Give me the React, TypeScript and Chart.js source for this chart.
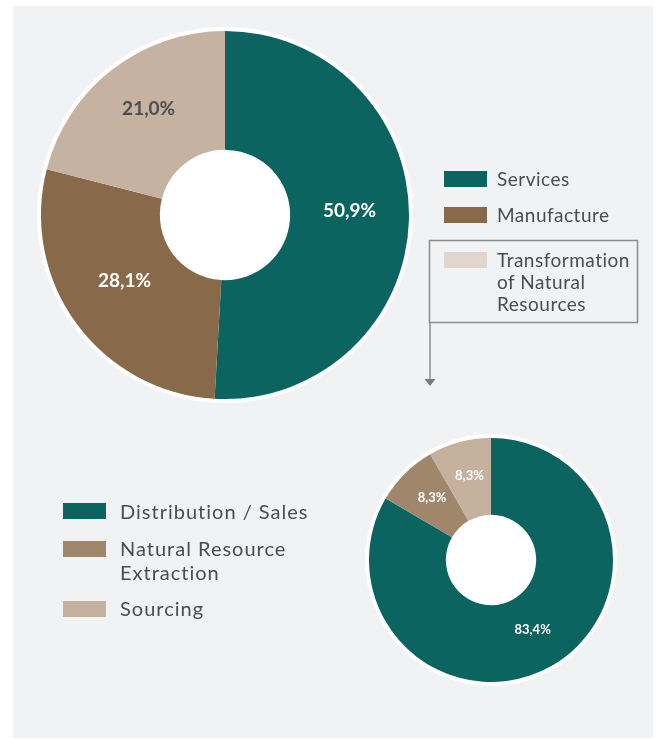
import React, { useEffect, useRef } from "react";
import { Chart, registerables } from "chart.js";

Chart.register(...registerables);

// ---- data ----
const mainCategories = ["Services", "Manufacture", "Transformation of Natural Resources"];
const mainValues = [50.9, 28.1, 21.0];
const mainColors = ["#0b6460", "#886a4a", "#c6b2a0"];
const mainLegendColors = ["#0b6460", "#886a4a", "#e0d6cd"];
const mainLabelColors = ["#ffffff", "#ffffff", "#4d4d4d"];
const mainLegendLines = [["Services"], ["Manufacture"], ["Transformation", "of Natural", "Resources"]];

const subCategories = ["Distribution / Sales", "Natural Resource Extraction", "Sourcing"];
const subValues = [83.4, 8.3, 8.3];
const subColors = ["#0b6460", "#a0876b", "#c6b19f"];
const subLabelColors = ["#ffffff", "#ffffff", "#ffffff"];
const subLegendLines = [["Distribution / Sales"], ["Natural Resource", "Extraction"], ["Sourcing"]];

const fmt = (v: number) => v.toFixed(1).replace(".", ",") + "%";

const TEXT = "#4c4c4c";
const FONT = "Lato, 'Noto Sans', sans-serif";

const donutPlugin = {
  id: "donutDecor",
  beforeDatasetsDraw(chart: any, _a: any, opts: any) {
    const meta = chart.getDatasetMeta(0);
    const arc = meta.data[0];
    if (!arc) return;
    const { x, y, outerRadius } = arc.getProps(["x", "y", "outerRadius"], true);
    const ctx = chart.ctx;
    ctx.save();
    ctx.beginPath();
    ctx.arc(x, y, outerRadius + (opts.ring || 4), 0, Math.PI * 2);
    ctx.fillStyle = "#ffffff";
    ctx.fill();
    ctx.restore();
  },
  afterDatasetsDraw(chart: any, _a: any, opts: any) {
    const meta = chart.getDatasetMeta(0);
    const ds = chart.data.datasets[0];
    const ctx = chart.ctx;
    ctx.save();
    ctx.font = `bold ${opts.fontSize || 18}px ${FONT}`;
    ctx.textAlign = "center";
    ctx.textBaseline = "middle";
    meta.data.forEach((arc: any, i: number) => {
      const p = arc.getProps(["x", "y", "startAngle", "endAngle", "innerRadius", "outerRadius"], true);
      const a = (p.startAngle + p.endAngle) / 2;
      const r = (p.innerRadius + p.outerRadius) / 2;
      ctx.fillStyle = opts.colors[i];
      ctx.fillText(fmt(ds.data[i]), p.x + Math.cos(a) * r, p.y + Math.sin(a) * r + (opts.dy || 0));
    });
    ctx.restore();
  },
};

function Donut(props: {
  labels: string[];
  values: number[];
  colors: string[];
  labelColors: string[];
  radius: number;
  cutout: string;
  fontSize: number;
  dy: number;
  left: number;
  top: number;
  size: number;
}) {
  const ref = useRef<HTMLCanvasElement | null>(null);
  useEffect(() => {
    if (!ref.current) return;
    const chart = new Chart(ref.current, {
      type: "doughnut",
      data: {
        labels: props.labels,
        datasets: [
          {
            data: props.values,
            backgroundColor: props.colors,
            borderWidth: 0,
            hoverOffset: 0,
          },
        ],
      },
      options: {
        responsive: false,
        animation: false,
        radius: props.radius,
        cutout: props.cutout,
        layout: { padding: 0 },
        plugins: {
          legend: { display: false },
          tooltip: { enabled: false },
          donutDecor: { ring: 4, colors: props.labelColors, fontSize: props.fontSize, dy: props.dy },
        } as any,
        events: [],
      },
      plugins: [donutPlugin as any],
    });
    return () => chart.destroy();
  }, []);
  return (
    <canvas
      ref={ref}
      width={props.size}
      height={props.size}
      style={{ position: "absolute", left: props.left, top: props.top, width: props.size, height: props.size }}
    />
  );
}

function LegendItem(props: { color: string; lines: string[]; boxLeft: number; boxTop: number; textTop: number; textLeft: number; fontSize: number; lineHeight: number; spacing: number }) {
  return (
    <>
      <div
        style={{
          position: "absolute",
          left: props.boxLeft,
          top: props.boxTop,
          width: 43,
          height: 16,
          background: props.color,
        }}
      />
      <div
        style={{
          position: "absolute",
          left: props.textLeft,
          top: props.textTop,
          fontFamily: FONT,
          fontSize: props.fontSize,
          lineHeight: props.lineHeight + "px",
          letterSpacing: props.spacing + "px",
          color: TEXT,
          whiteSpace: "nowrap",
        }}
      >
        {props.lines.map((l, i) => (
          <div key={i}>{l}</div>
        ))}
      </div>
    </>
  );
}

export default function App() {
  const topBoxTops = [171, 207, 252];
  const topTextTops = [168, 204, 249];
  const botBoxTops = [503, 541, 601];
  const botTextTops = [499, 536, 596];
  return (
    <div style={{ position: "fixed", left: 0, top: 0, width: 657, height: 739, background: "#ffffff", overflow: "hidden" }}>
      <div style={{ position: "absolute", left: 13, top: 6, width: 640, height: 732, background: "#f1f2f4" }} />
      <Donut
        labels={mainCategories}
        values={mainValues}
        colors={mainColors}
        labelColors={mainLabelColors}
        radius={184}
        cutout="35.4%"
        fontSize={19}
        dy={-8}
        left={25}
        top={15}
        size={400}
      />
      <Donut
        labels={subCategories}
        values={subValues}
        colors={subColors}
        labelColors={subLabelColors}
        radius={122}
        cutout="37%"
        fontSize={13}
        dy={-3}
        left={361}
        top={430}
        size={260}
      />
      <svg style={{ position: "absolute", left: 0, top: 0 }} width={657} height={739}>
        <rect x={429.5} y={240.5} width={208} height={82} fill="none" stroke="#8c8c8c" strokeWidth={1.5} />
        <line x1={430} y1={322} x2={430} y2={381} stroke="#8c8c8c" strokeWidth={1.5} />
        <polygon points="424.5,379 435.5,379 430,386" fill="#7a7a7a" />
      </svg>
      {mainCategories.map((c, i) => (
        <LegendItem
          key={c}
          color={mainLegendColors[i]}
          lines={mainLegendLines[i]}
          boxLeft={444}
          boxTop={topBoxTops[i]}
          textLeft={497}
          textTop={topTextTops[i]}
          fontSize={19}
          lineHeight={22}
          spacing={0.5}
        />
      ))}
      {subCategories.map((c, i) => (
        <LegendItem
          key={c}
          color={subColors[i]}
          lines={subLegendLines[i]}
          boxLeft={63}
          boxTop={botBoxTops[i]}
          textLeft={120}
          textTop={botTextTops[i]}
          fontSize={20}
          lineHeight={24}
          spacing={1}
        />
      ))}
    </div>
  );
}
